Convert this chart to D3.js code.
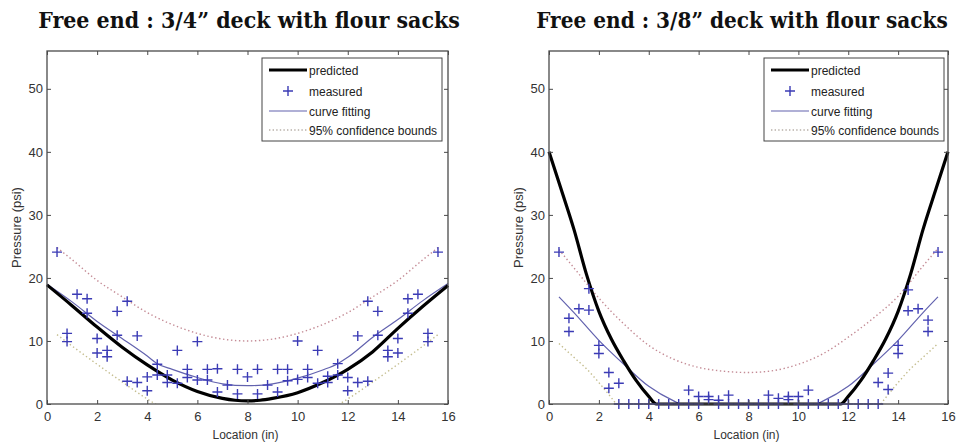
<!DOCTYPE html>
<html><head><meta charset="utf-8">
<script src="https://cdn.jsdelivr.net/npm/d3@7"></script>
<style>body{margin:0;background:#fff}</style>
</head><body>
<svg id="c" width="959" height="444"></svg>
<script>
// ---------- shared labels ----------
const titles = ["Free end : 3/4\u201D deck with flour sacks", "Free end : 3/8\u201D deck with flour sacks"];
const xLabel = "Location (in)";
const yLabel = "Pressure (psi)";
const xTicks = [0, 2, 4, 6, 8, 10, 12, 14, 16];
const yTicks = [0, 10, 20, 30, 40, 50];
const legendLabels = ["predicted", "measured", "curve fitting", "95% confidence bounds"];

// ---------- panel A : 3/4" deck ----------
const aPredX = [0, 1, 2, 3, 4, 5, 6, 7, 7.5, 8, 8.5, 9, 10, 11, 12, 13, 14, 15, 16];
const aPredY = [18.9, 15.6, 12.2, 9.0, 6.2, 3.8, 2.0, 0.9, 0.6, 0.5, 0.6, 0.9, 1.8, 3.4, 5.5, 8.3, 12.0, 15.5, 18.8];
const aFitX = [0, 1, 2, 2.8, 4, 4.4, 5, 6, 7, 8, 9, 10, 11, 11.6, 12, 13, 14, 15, 16];
const aFitY = [19.0, 16.2, 13.1, 10.9, 7.6, 6.4, 5.5, 4.2, 3.2, 2.9, 3.2, 4.1, 5.4, 6.4, 7.4, 10.6, 13.4, 16.4, 19.1];
const aUpX = [0.4, 1, 2, 3, 4, 5, 6, 7, 8, 9, 10, 11, 12, 13, 14, 15, 15.6];
const aUpY = [24.8, 22.9, 19.6, 17.0, 14.5, 12.6, 11.2, 10.3, 10.0, 10.3, 11.2, 12.6, 14.5, 17.0, 19.6, 22.9, 24.8];
const aLoX = [0.4, 1, 2, 3, 4, 5, 6, 10, 11, 12, 13, 14, 15, 15.6];
const aLoY = [11.0, 9.2, 6.3, 3.5, 0.8, -1.5, -3.0, -3.0, -1.5, 0.8, 3.5, 6.3, 9.2, 11.0];
const aMeasX = [0.4, 0.8, 0.8, 1.2, 1.6, 1.6, 2.0, 2.0, 2.4, 2.4, 2.8, 2.8, 3.2, 3.2, 3.6, 3.6, 4.0, 4.0, 4.4, 4.4,
  4.8, 4.8, 5.2, 5.2, 5.6, 5.6, 6.0, 6.0, 6.4, 6.4, 6.8, 6.8, 7.2, 7.6, 7.6, 8.0,
  8.4, 8.4, 8.8, 9.2, 9.2, 9.6, 9.6, 10.0, 10.0, 10.4, 10.4, 10.8, 10.8, 11.2, 11.2, 11.6, 11.6,
  12.0, 12.0, 12.4, 12.4, 12.8, 12.8, 13.2, 13.2, 13.6, 13.6, 14.0, 14.0, 14.4, 14.4, 14.8, 15.2, 15.2, 15.6];
const aMeasY = [24.1, 11.2, 9.9, 17.4, 16.7, 14.4, 10.4, 8.1, 8.5, 7.5, 14.7, 10.9, 16.3, 3.6, 10.8, 3.4, 4.3, 2.1, 6.3, 4.6,
  4.6, 3.4, 8.5, 3.3, 5.5, 4.2, 9.9, 3.8, 5.5, 3.8, 5.6, 1.9, 3.0, 5.5, 1.6, 4.3,
  5.5, 1.6, 3.0, 5.5, 1.9, 5.5, 3.7, 10.0, 3.9, 5.5, 4.2, 8.5, 3.3, 4.4, 3.4, 6.4, 4.6,
  4.2, 2.1, 10.8, 3.4, 16.3, 3.6, 14.7, 10.9, 8.5, 7.5, 10.4, 8.1, 16.7, 14.4, 17.4, 11.2, 9.9, 24.1];

// ---------- panel B : 3/8" deck ----------
const bPredX = [0, 0.5, 1, 1.5, 2, 2.5, 3, 3.5, 4, 4.3, 8, 11.7, 12, 12.5, 13, 13.5, 14, 14.5, 15, 15.5, 16];
const bPredY = [40.0, 33.9, 27.7, 20.6, 14.7, 10.3, 6.8, 3.7, 1.2, 0, 0, 0, 1.2, 3.7, 6.8, 10.3, 14.7, 20.6, 27.7, 33.9, 40.0];
const bFitX = [0.4, 1, 2, 3, 4, 5, 5.3, 8, 10.7, 11, 12, 13, 14, 15, 15.6];
const bFitY = [17.0, 14.5, 10.1, 6.3, 2.8, 0.5, 0, 0, 0, 0.5, 2.8, 6.3, 10.1, 14.5, 17.0];
const bUpX = [0.4, 1, 2, 3, 4, 5, 6, 7, 8, 9, 10, 11, 12, 13, 14, 15, 15.6];
const bUpY = [24.5, 21.6, 16.8, 12.7, 9.3, 7.1, 5.8, 5.2, 5.0, 5.3, 6.3, 8.0, 10.6, 13.6, 17.1, 21.9, 24.7];
const bLoX = [0.4, 1, 1.5, 2, 2.5, 3, 3.5, 12.5, 13, 13.5, 14, 14.5, 15, 15.6];
const bLoY = [9.6, 7.4, 5.6, 3.4, 1.0, -1.5, -3.0, -3.0, -1.5, 1.0, 3.4, 5.6, 7.4, 9.6];
const bMeasX = [0.4, 0.8, 0.8, 1.2, 1.6, 1.6, 2.0, 2.0, 2.4, 2.4, 2.8, 2.8, 3.2, 3.6, 4.0, 4.4, 4.8, 5.2,
  5.6, 5.6, 6.0, 6.0, 6.4, 6.4, 6.8, 6.8, 7.2, 7.2, 7.6, 8.0, 8.4, 8.8, 8.8, 9.2, 9.2, 9.6, 9.6, 10.0, 10.0, 10.4, 10.4,
  10.8, 11.2, 11.6, 12.0, 12.4, 12.8, 13.2, 13.2, 13.6, 13.6, 14.0, 14.0, 14.4, 14.4, 14.8, 15.2, 15.2, 15.6];
const bMeasY = [24.1, 13.6, 11.5, 15.1, 18.3, 14.9, 9.3, 8.0, 5.0, 2.5, 3.3, 0, 0, 0, 0, 0, 0, 0,
  2.2, 0, 1.2, 0, 1.2, 0.7, 0.6, 0, 1.4, 0, 0, 0, 0, 1.4, 0, 0.9, 0, 1.2, 0.7, 1.2, 0, 2.2, 0,
  0, 0, 0, 0, 0, 0, 3.4, 0, 4.9, 2.3, 9.3, 8.0, 18.1, 14.8, 15.1, 13.3, 11.5, 24.1];

const panels = [
  {title: titles[0], left: 47, right: 448, legendX: 262, titleX: 249, titleW: 422,
   pred: [aPredX, aPredY], fit: [aFitX, aFitY], up: [aUpX, aUpY], lo: [aLoX, aLoY], meas: [aMeasX, aMeasY]},
  {title: titles[1], left: 549, right: 948, legendX: 764, titleX: 742, titleW: 412,
   pred: [bPredX, bPredY], fit: [bFitX, bFitY], up: [bUpX, bUpY], lo: [bLoX, bLoY], meas: [bMeasX, bMeasY]}
];

const TOP = 51, BOTTOM = 404;
const C = {pred: "#000", meas: "#3b3bb5", fit: "#6262ae", up: "#c48b95", lo: "#c4bd8e", axis: "#4a4a4a", text: "#333"};
const svg = d3.select("#c");
const zip = (xs, ys) => xs.map((v, i) => [v, ys[i]]);
const plus = "M-5,0H5M0,-5V5";

panels.forEach((p, pi) => {
  const x = d3.scaleLinear().domain([0, 16]).range([p.left, p.right]);
  const y = d3.scaleLinear().domain([0, 56]).range([BOTTOM, TOP]);
  const g = svg.append("g");

  // title (scaled horizontally to the reference width)
  const tg = g.append("g").attr("transform", `translate(${p.titleX},28)`);
  const tt = tg.append("text").attr("x", 0).attr("y", 0).attr("text-anchor", "middle")
    .attr("font-family", "DejaVu Serif, Liberation Serif, serif").attr("font-weight", "bold")
    .attr("font-size", 22).attr("fill", "#111").text(p.title);
  const natural = tt.node().getComputedTextLength() || p.titleW;
  tg.attr("transform", `translate(${p.titleX},28) scale(${p.titleW / natural},1)`);

  const clipId = "clip" + pi;
  svg.append("clipPath").attr("id", clipId).append("rect")
    .attr("x", p.left).attr("y", TOP).attr("width", p.right - p.left).attr("height", BOTTOM - TOP);

  const line = d3.line().x(d => x(d[0])).y(d => y(d[1])).curve(d3.curveMonotoneX);

  // confidence bounds
  g.append("path").attr("d", line(zip(p.up[0], p.up[1]))).attr("fill", "none")
    .attr("stroke", C.up).attr("stroke-width", 1.4).attr("stroke-dasharray", "1.4,2.6")
    .attr("clip-path", `url(#${clipId})`);
  g.append("path").attr("d", line(zip(p.lo[0], p.lo[1]))).attr("fill", "none")
    .attr("stroke", C.lo).attr("stroke-width", 1.4).attr("stroke-dasharray", "1.4,2.6")
    .attr("clip-path", `url(#${clipId})`);

  // fit
  g.append("path").attr("d", line(zip(p.fit[0], p.fit[1]))).attr("fill", "none")
    .attr("stroke", C.fit).attr("stroke-width", 1.2);
  // predicted
  g.append("path").attr("d", line(zip(p.pred[0], p.pred[1]))).attr("fill", "none")
    .attr("stroke", C.pred).attr("stroke-width", 3.2).attr("stroke-linejoin", "round");

  // measured
  g.append("g").selectAll("path").data(zip(p.meas[0], p.meas[1])).join("path")
    .attr("transform", d => `translate(${x(d[0])},${y(d[1])})`)
    .attr("d", plus).attr("stroke", C.meas).attr("stroke-width", 1.4).attr("fill", "none");

  // axes
  const styleAxis = sel => {
    sel.selectAll(".domain").remove();
    sel.selectAll("line").attr("stroke", C.axis).attr("stroke-width", 1);
    sel.selectAll("text").attr("fill", C.text).attr("font-family", "Liberation Sans, Arial, sans-serif").attr("font-size", 13);
  };
  g.append("g").attr("transform", `translate(0,${BOTTOM})`)
    .call(d3.axisBottom(x).tickValues(xTicks).tickSize(-4).tickPadding(8).tickFormat(d3.format("d"))).call(styleAxis);
  g.append("g").attr("transform", `translate(0,${TOP})`)
    .call(d3.axisTop(x).tickValues(xTicks).tickSize(-4).tickFormat("")).call(styleAxis);
  g.append("g").attr("transform", `translate(${p.left},0)`)
    .call(d3.axisLeft(y).tickValues(yTicks).tickSize(-4).tickPadding(4).tickFormat(d3.format("d"))).call(styleAxis);
  g.append("g").attr("transform", `translate(${p.right},0)`)
    .call(d3.axisRight(y).tickValues(yTicks).tickSize(-4).tickFormat("")).call(styleAxis);
  g.append("rect").attr("x", p.left).attr("y", TOP).attr("width", p.right - p.left).attr("height", BOTTOM - TOP)
    .attr("fill", "none").attr("stroke", C.axis).attr("stroke-width", 1.3);

  // axis labels
  g.append("text").attr("x", (p.left + p.right) / 2 - 2).attr("y", 439).attr("text-anchor", "middle")
    .attr("font-family", "Liberation Sans, Arial, sans-serif").attr("font-size", 12).attr("fill", C.text).text(xLabel);
  g.append("text").attr("transform", `translate(${p.left - 26},${(TOP + BOTTOM) / 2}) rotate(-90)`)
    .attr("text-anchor", "middle").attr("font-family", "Liberation Sans, Arial, sans-serif")
    .attr("font-size", 13).attr("fill", C.text).text(yLabel);

  // legend
  const lg = g.append("g").attr("transform", `translate(${p.legendX},58)`);
  lg.append("rect").attr("width", 180).attr("height", 83).attr("fill", "#fff").attr("stroke", "#444").attr("stroke-width", 1);
  const rows = [12, 33, 53, 72];
  lg.append("line").attr("x1", 7).attr("x2", 45).attr("y1", rows[0]).attr("y2", rows[0]).attr("stroke", C.pred).attr("stroke-width", 3.2);
  lg.append("path").attr("d", plus).attr("transform", `translate(26,${rows[1]})`).attr("stroke", C.meas).attr("stroke-width", 1.4);
  lg.append("line").attr("x1", 7).attr("x2", 45).attr("y1", rows[2]).attr("y2", rows[2]).attr("stroke", C.fit).attr("stroke-width", 1.2);
  lg.append("line").attr("x1", 7).attr("x2", 45).attr("y1", rows[3]).attr("y2", rows[3]).attr("stroke", "#b8b0a8")
    .attr("stroke-width", 1.4).attr("stroke-dasharray", "1.4,2.2");
  lg.selectAll("text.lab").data(legendLabels).join("text").attr("class", "lab")
    .attr("x", 47).attr("y", (d, i) => rows[i] + 4.5)
    .attr("font-family", "Liberation Sans, Arial, sans-serif").attr("font-size", 12).attr("fill", "#222").text(d => d);
});
</script>
</body></html>
